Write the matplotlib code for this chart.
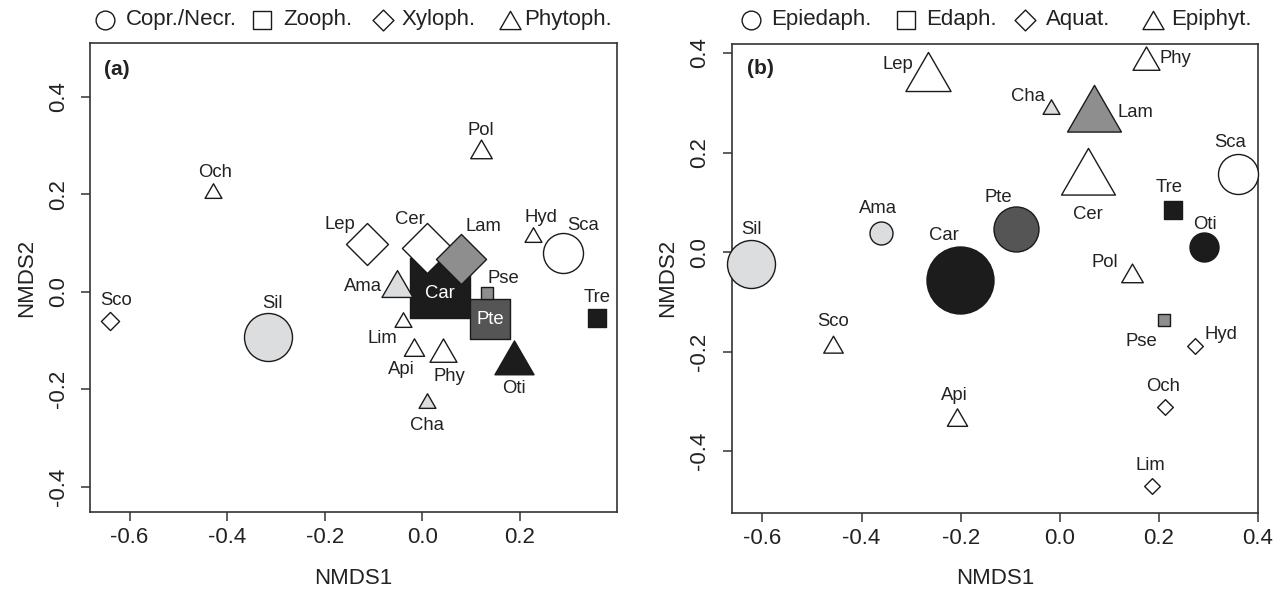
import matplotlib
matplotlib.use("Agg")
import matplotlib.pyplot as plt
from matplotlib.path import Path
from matplotlib.ticker import FormatStrFormatter
import numpy as np

plt.rcParams["font.family"] = ["Liberation Sans", "DejaVu Sans"]
plt.rcParams["axes.unicode_minus"] = False

# taxa, with symbol size (relative abundance) and fill shade
taxa = ["Ama", "Api", "Car", "Cer", "Cha", "Hyd", "Lam", "Lep", "Lim", "Och",
        "Oti", "Phy", "Pol", "Pse", "Pte", "Sca", "Sco", "Sil", "Tre"]
abund = [2.3, 1.5, 6.7, 4.0, 1.25, 1.25, 4.0, 3.35, 1.25, 1.25,
         2.9, 2.0, 1.6, 1.25, 4.5, 4.0, 1.45, 4.8, 2.0]
shade = [1, 0, 4, 0, 1, 0, 2, 0, 0, 0, 4, 0, 0, 2, 3, 0, 0, 1, 4]

# (a) feeding guild
troph_groups = ["Copr./Necr.", "Zooph.", "Xyloph.", "Phytoph."]
troph = [3, 3, 1, 2, 3, 3, 2, 2, 3, 3, 3, 3, 3, 1, 1, 0, 2, 0, 1]
nmds1_a = [-0.052, -0.017, 0.035, 0.009, 0.010, 0.226, 0.079, -0.114, -0.039, -0.428,
           0.187, 0.043, 0.120, 0.133, 0.139, 0.289, -0.641, -0.317, 0.358]
nmds2_a = [0.007, -0.119, 0.007, 0.089, -0.229, 0.112, 0.068, 0.098, -0.063, 0.203,
           -0.147, -0.128, 0.286, -0.002, -0.055, 0.080, -0.059, -0.093, -0.053]

# (b) habitat
hab_groups = ["Epiedaph.", "Edaph.", "Aquat.", "Epiphyt."]
habitat = [0, 3, 0, 3, 3, 2, 3, 3, 2, 2, 0, 3, 3, 1, 0, 0, 3, 0, 1]
nmds1_b = [-0.361, -0.208, -0.201, 0.056, -0.017, 0.273, 0.070, -0.265, 0.186, 0.213,
           0.291, 0.173, 0.145, 0.210, -0.089, 0.359, -0.458, -0.623, 0.228]
nmds2_b = [0.039, -0.337, -0.056, 0.147, 0.287, -0.188, 0.274, 0.350, -0.470, -0.311,
           0.010, 0.382, -0.047, -0.137, 0.046, 0.156, -0.190, -0.024, 0.085]

# label offsets (pixels) from each symbol
offs_a = {"Ama": (-34, 2), "Api": (-13, -20), "Car": (0, -5), "Cer": (-17, 29),
          "Cha": (0, -22), "Hyd": (8, 20), "Lam": (22, 32), "Lep": (-27, 19),
          "Lim": (-21, -16), "Och": (2, 20), "Oti": (0, -25), "Phy": (6, -22),
          "Pol": (0, 22), "Pse": (16, 14), "Pte": (0, -1), "Sca": (20, 27),
          "Sco": (7, 20), "Sil": (5, 34), "Tre": (0, 20)}
offs_b = {"Ama": (-3, 24), "Api": (-2, 24), "Car": (-16, 44), "Cer": (0, -36),
          "Cha": (-23, 13), "Hyd": (26, 11), "Lam": (41, 3), "Lep": (-31, 13),
          "Lim": (-2, 21), "Och": (-2, 20), "Oti": (1, 23), "Phy": (30, 3),
          "Pol": (-27, 13), "Pse": (-23, -21), "Pte": (-17, 32), "Sca": (-8, 32),
          "Sco": (0, 25), "Sil": (0, 35), "Tre": (-4, 22)}

fills = ["white", "#dcdddf", "#8e8e8e", "#555555", "#1c1c1c"]
edge = "#1a1a1a"

sq = Path([(-1, -1), (1, -1), (1, 1), (-1, 1), (-1, -1)], closed=True)
dm = Path([(0, 1), (1, 0), (0, -1), (-1, 0), (0, 1)], closed=True)
tr = Path([(0, 1), (-0.866, -0.5), (0.866, -0.5), (0, 1)], closed=True)
markers = ["o", sq, dm, tr]
msfac = [1.0, 0.886, 1.253, 1.555]   # same area as the circle


def draw_panel(ax, xs, ys, groups, offs, inside, xlim, ylim, xt):
    order = np.argsort(abund)[::-1]
    for rank, i in enumerate(order):
        g = groups[i]
        ax.plot(xs[i], ys[i], ls="none", marker=markers[g],
                ms=abund[i] * 10 * 0.72 * msfac[g], mfc=fills[shade[i]],
                mec=edge, mew=1.0, zorder=3 + rank * 0.01, clip_on=False)
    for i, t in enumerate(taxa):
        ax.annotate(t, (xs[i], ys[i]), xytext=offs[t], textcoords="offset pixels",
                    ha="center", va="center", fontsize=13.3,
                    color="white" if t in inside else "#222222", zorder=10)
    ax.set_xlim(xlim)
    ax.set_ylim(ylim)
    ax.set_xticks(xt)
    ax.set_yticks([-0.4, -0.2, 0.0, 0.2, 0.4])
    ax.xaxis.set_major_formatter(FormatStrFormatter("%.1f"))
    ax.yaxis.set_major_formatter(FormatStrFormatter("%.1f"))
    ax.tick_params(direction="out", length=6.3, width=1.1, color="#333333",
                   labelsize=16, labelcolor="#222222")
    ax.tick_params(axis="x", pad=5)
    ax.tick_params(axis="y", pad=9, labelrotation=90)
    for lab in ax.get_yticklabels():
        lab.set_va("center")
    for s in ax.spines.values():
        s.set_color("#333333")
        s.set_linewidth(1.2)


fig = plt.figure(figsize=(12.86, 5.89), dpi=100)
W, H = 1286, 589
ax_a = fig.add_axes([90 / W, 1 - 511.7 / H, 526.7 / W, 468.4 / H])
ax_b = fig.add_axes([731.7 / W, 1 - 512.5 / H, 526.6 / W, 468.5 / H])

draw_panel(ax_a, nmds1_a, nmds2_a, troph, offs_a, {"Car", "Pte"},
           (-0.681, 0.398), (-0.451, 0.5095), [-0.6, -0.4, -0.2, 0.0, 0.2])
draw_panel(ax_b, nmds1_b, nmds2_b, habitat, offs_b, set(),
           (-0.662, 0.4005), (-0.523, 0.418), [-0.6, -0.4, -0.2, 0.0, 0.2, 0.4])

# overlay in pixel coordinates for legends and labels
ov = fig.add_axes([0, 0, 1, 1])
ov.set_xlim(0, W)
ov.set_ylim(H, 0)
ov.axis("off")

leg_y = 20
leg_ms = [13.5, 13.0, 15.0, 17.5]
for sym_x, txt_x, names in [([105, 261.6, 383, 510], [125.7, 283.7, 402, 524.5], troph_groups),
                            ([751, 905.8, 1025, 1153], [771, 926, 1046, 1171.5], hab_groups)]:
    for k in range(4):
        ov.plot(sym_x[k], leg_y + (2.5 if k == 3 else 0), ls="none", marker=markers[k],
                ms=leg_ms[k], mfc="white", mec=edge, mew=1.0)
        ov.text(txt_x[k], leg_y, names[k], ha="left", va="center", fontsize=16,
                color="#222222")

ov.text(116.7, 69.3, "(a)", ha="center", va="center", fontsize=15, fontweight="bold",
        color="#222222")
ov.text(760, 68, "(b)", ha="center", va="center", fontsize=15, fontweight="bold",
        color="#222222")
for cx in [353.4, 995]:
    ov.text(cx, 578, "NMDS1", ha="center", va="center", fontsize=16, color="#222222")
for cx in [26.7, 668]:
    ov.text(cx, 278, "NMDS2", ha="center", va="center", rotation=90, fontsize=16,
            color="#222222")

fig.savefig("out.png", dpi=100)
